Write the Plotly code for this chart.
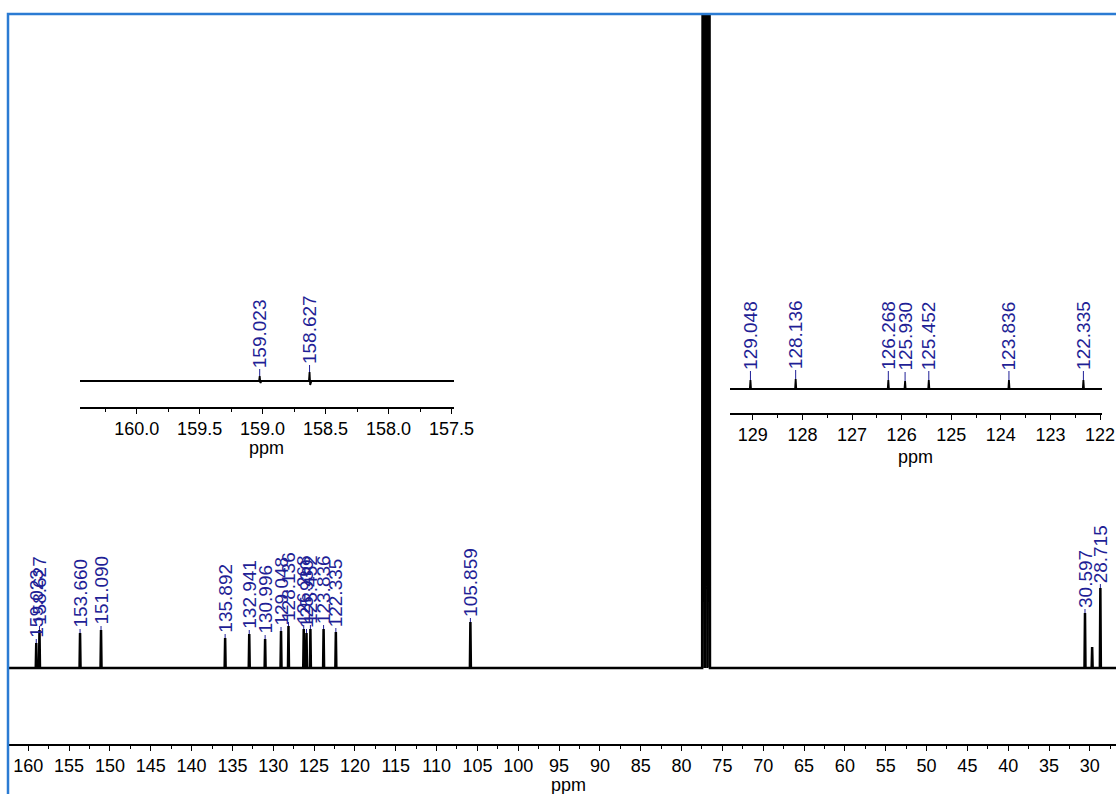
import plotly.graph_objects as go

FIG_W, FIG_H = 1116, 794

# ---------------- data ----------------
# main 13C spectrum: labelled peaks (ppm, height above baseline)
main_peak_ppm = [159.023, 158.627, 153.660, 151.090, 135.892, 132.941, 130.996,
                 129.048, 128.136, 126.268, 125.930, 125.452, 123.836, 122.335,
                 105.859, 30.597, 28.715]
main_peak_height = [25, 38, 35, 38, 30, 34, 29, 37, 42, 39, 35, 39, 39, 36, 46, 55, 80]
main_peak_labels = ["159.023", "158.627", "153.660", "151.090", "135.892", "132.941",
                    "130.996", "129.048", "128.136", "126.268", "125.930", "125.452",
                    "123.836", "122.335", "105.859", "30.597", "28.715"]
# unlabelled signals (CDCl3 triplet, small aliphatic peak)
other_peak_ppm = [77.32, 77.00, 76.68, 29.72]
other_peak_height = [2000, 2100, 2000, 21]

# inset 1 (157.5 - 160.5 ppm)
inset1_ppm = [159.023, 158.627]
inset1_height = [5, 9]
inset1_dip = [-2, -4]
inset1_labels = ["159.023", "158.627"]

# inset 2 (122 - 129.5 ppm)
inset2_ppm = [129.048, 128.136, 126.268, 125.930, 125.452, 123.836, 122.335]
inset2_height = [9, 10, 9, 8, 9, 9, 9]
inset2_labels = ["129.048", "128.136", "126.268", "125.930", "125.452", "123.836", "122.335"]

MAIN_RANGE = [162.36, 26.8]
INSET1_RANGE = [160.45, 157.48]
INSET2_RANGE = [129.46, 121.96]

LABEL_COLOR = "#1F1F96"
FONT = "Liberation Sans, Arial, sans-serif"


def py(pix):
    return (FIG_H - pix) / FIG_H


def px(pix):
    return pix / FIG_W


def spectrum(rng, ppm, height, halfw, dip=None):
    dip = dip if dip is not None else [0] * len(ppm)
    items = sorted(zip(ppm, height, halfw, dip), key=lambda t: -t[0])
    xs, ys = [rng[0]], [0]
    for p, h, w, d in items:
        xs += [p + w, p]
        ys += [0, h]
        if d:
            xs += [p - w, p - 3 * w]
            ys += [d, 0]
        else:
            xs += [p - w]
            ys += [0]
    xs.append(rng[1])
    ys.append(0)
    return xs, ys


def leaders(ppm, height, gap):
    xs, ys = [], []
    for p, h in zip(ppm, height):
        xs += [p, p, None]
        ys += [h, h + gap, None]
    return xs, ys


fig = go.Figure()

# main spectrum
all_ppm = main_peak_ppm + other_peak_ppm
all_h = main_peak_height + other_peak_height
all_w = [0.06] * len(main_peak_ppm) + [0.16, 0.16, 0.16, 0.06]
mx, my = spectrum(MAIN_RANGE, all_ppm, all_h, all_w)
fig.add_trace(go.Scatter(x=mx, y=my, mode="lines", line=dict(color="black", width=2.5),
                         xaxis="x", yaxis="y", hoverinfo="skip"))
lx, ly = leaders(main_peak_ppm, main_peak_height, 4)
fig.add_trace(go.Scatter(x=lx, y=ly, mode="lines", line=dict(color=LABEL_COLOR, width=1),
                         xaxis="x", yaxis="y", hoverinfo="skip"))

# inset 1
i1x, i1y = spectrum(INSET1_RANGE, inset1_ppm, inset1_height, [0.005, 0.005], inset1_dip)
fig.add_trace(go.Scatter(x=i1x, y=i1y, mode="lines", line=dict(color="black", width=1.8),
                         xaxis="x2", yaxis="y2", hoverinfo="skip"))
l1x, l1y = leaders(inset1_ppm, inset1_height, 7)
fig.add_trace(go.Scatter(x=l1x, y=l1y, mode="lines", line=dict(color=LABEL_COLOR, width=1),
                         xaxis="x2", yaxis="y2", hoverinfo="skip"))

# inset 2
i2x, i2y = spectrum(INSET2_RANGE, inset2_ppm, inset2_height, [0.012] * len(inset2_ppm))
fig.add_trace(go.Scatter(x=i2x, y=i2y, mode="lines", line=dict(color="black", width=1.8),
                         xaxis="x3", yaxis="y3", hoverinfo="skip"))
l2x, l2y = leaders(inset2_ppm, inset2_height, 9)
fig.add_trace(go.Scatter(x=l2x, y=l2y, mode="lines", line=dict(color=LABEL_COLOR, width=1),
                         xaxis="x3", yaxis="y3", hoverinfo="skip"))

annotations = []
for p, h, t in zip(main_peak_ppm, main_peak_height, main_peak_labels):
    annotations.append(dict(x=p, y=h + 4, xref="x", yref="y", text=t, showarrow=False,
                            textangle=-90, xanchor="center", yanchor="bottom",
                            borderpad=0, font=dict(family=FONT, size=19, color=LABEL_COLOR)))
for p, h, t in zip(inset1_ppm, inset1_height, inset1_labels):
    annotations.append(dict(x=p, y=h + 7, xref="x2", yref="y2", text=t, showarrow=False,
                            textangle=-90, xanchor="center", yanchor="bottom",
                            borderpad=0, font=dict(family=FONT, size=19, color=LABEL_COLOR)))
for p, h, t in zip(inset2_ppm, inset2_height, inset2_labels):
    annotations.append(dict(x=p, y=h + 9, xref="x3", yref="y3", text=t, showarrow=False,
                            textangle=-90, xanchor="center", yanchor="bottom",
                            borderpad=0, font=dict(family=FONT, size=19, color=LABEL_COLOR)))
# axis titles
for xp, yp in [(568, 785), (266, 448), (915, 457)]:
    annotations.append(dict(x=px(xp), y=py(yp), xref="paper", yref="paper", text="ppm",
                            showarrow=False, xanchor="center", yanchor="middle",
                            font=dict(family=FONT, size=18, color="black")))

axis_common = dict(showline=True, linecolor="black", linewidth=1.5, ticks="outside",
                   ticklen=5, tickwidth=1, tickcolor="black", showgrid=False,
                   zeroline=False, tickfont=dict(family=FONT, size=18, color="black"),
                   fixedrange=True, automargin=False)

fig.update_layout(
    width=FIG_W, height=FIG_H, autosize=False,
    margin=dict(l=0, r=0, t=0, b=0, pad=0, autoexpand=False),
    paper_bgcolor="white", plot_bgcolor="rgba(0,0,0,0)",
    showlegend=False,
    xaxis=dict(domain=[px(9), 1.0], range=MAIN_RANGE, anchor="y", tick0=0, dtick=5,
               minor=dict(dtick=2.5, ticks="outside", ticklen=3, tickcolor="black"),
               **axis_common),
    yaxis=dict(domain=[py(744), py(14)], range=[-76, 654], visible=False, fixedrange=True,
               automargin=False),
    xaxis2=dict(domain=[px(80), px(454)], range=INSET1_RANGE, anchor="y2", tick0=0,
                dtick=0.5, tickformat=".1f",
                minor=dict(dtick=0.25, ticks="outside", ticklen=3, tickcolor="black"),
                **axis_common),
    yaxis2=dict(domain=[py(407), py(290)], range=[-26, 91], visible=False, anchor="x2",
                fixedrange=True, automargin=False),
    xaxis3=dict(domain=[px(730), px(1102)], range=INSET2_RANGE, anchor="y3", tick0=0,
                dtick=1,
                minor=dict(dtick=0.5, ticks="outside", ticklen=3, tickcolor="black"),
                **axis_common),
    yaxis3=dict(domain=[py(413), py(295)], range=[-24, 94], visible=False, anchor="x3",
                fixedrange=True, automargin=False),
    annotations=annotations,
    shapes=[dict(type="rect", xref="paper", yref="paper", x0=px(8), x1=1.02,
                 y0=-0.02, y1=py(14), line=dict(color="#2B7BD3", width=2.5),
                 fillcolor="rgba(0,0,0,0)", layer="above")],
)

fig.write_html("out.html", config={"responsive": False, "displayModeBar": False})
